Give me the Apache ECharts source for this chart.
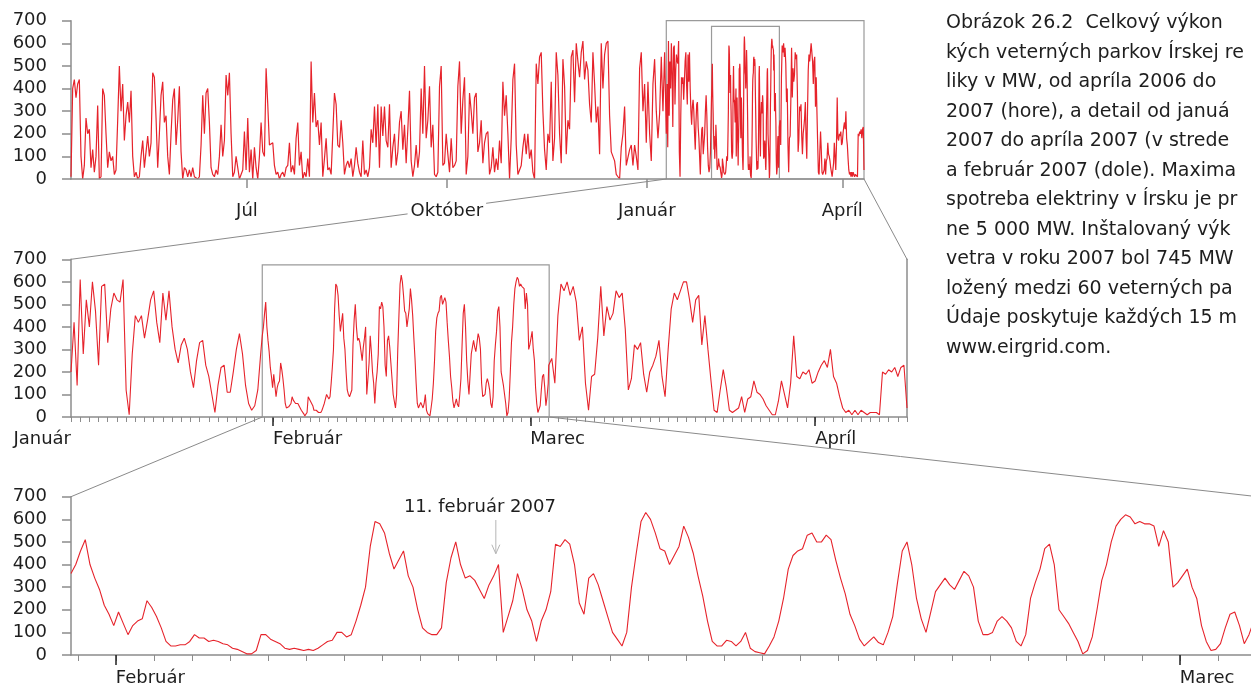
<!DOCTYPE html>
<html><head><meta charset="utf-8">
<script src="https://cdn.jsdelivr.net/npm/echarts@6.0.0/dist/echarts.min.js"></script>
<style>html,body{margin:0;padding:0;background:#fff}#c{width:1251px;height:685px}</style>
</head><body><div id="c"></div>
<script>
// ---------- DATA (MW) ----------
// x = days relative to 1 Jan 2007
// Top panel, 11 Apr 2006 .. 10 Jan 2007, evenly sampled
const topPreStart = -265;
const topPreEnd = 9;
const topPre = [
10,400,440,360,420,440,100,0,60,270,
200,220,50,130,30,100,325,0,10,400,
370,200,50,120,80,100,20,40,260,500,
300,420,170,280,340,250,390,100,10,30,
0,10,100,170,50,120,190,100,160,470,
450,270,50,200,370,430,250,280,100,20,
200,350,400,150,260,410,120,0,50,40,
10,40,10,50,10,10,0,10,150,370,
200,380,400,250,50,20,10,40,20,100,
240,100,170,460,370,470,200,10,30,100,
50,0,0,40,210,40,270,30,130,0,
140,50,0,100,250,120,100,490,330,150,
150,160,60,20,30,0,20,30,10,50,
60,160,30,60,20,180,250,60,120,0,
30,10,90,10,520,250,380,230,260,150,
250,10,90,180,40,50,20,200,380,330,
150,140,260,160,20,60,80,50,90,10,
60,140,70,30,10,170,20,40,10,50,
220,160,320,140,330,50,320,190,320,170,
140,330,50,140,200,60,120,250,300,130,
240,70,220,390,80,10,60,150,50,120,
400,200,500,180,260,410,140,240,20,10,
30,410,500,60,70,200,110,30,180,50,
60,80,410,520,200,350,450,20,100,380,
300,200,360,380,120,160,260,70,160,200,
210,20,50,140,30,90,40,170,70,430,
280,370,200,0,180,440,510,150,20,20,
60,140,200,110,200,90,130,30,0,510,
420,540,560,300,130,40,200,160,430,80,
180,560,460,200,70,530,410,110,260,220,
540,570,340,600,520,450,560,610,440,520,
480,330,250,560,420,250,320,110,600,400,
550,600,610,280,120,120,80,20,10,0,
140,200,320,60,60,130,150,60,150,100,
40,490,560,300,420,160,430,200,80,420,
530,300,180,290,540,300,560,350
];
// Middle panel part A: 10 Jan .. 30 Jan 2007, every 8 hours
const midAStart = 9, midAStep = 1/3;
const midA = [
200,420,140,610,280,520,400,600,470,230,
580,590,330,480,550,520,510,610,120,10,
280,450,420,450,350,430,520,560,420,330,
550,430,560,400,300,240,320,350,300,200,
130,250,330,340,230,180,100,20,140,220,
230,110,110,200,300,370,280,140,60,30,
50,120,290
];
// Bottom panel (February detail): every 3 hours
const febStart = 29.82, febStep = 1/8;
const feb = [
360,400,460,510,400,340,290,220,180,130,
190,140,90,130,150,160,240,210,170,120,
60,40,40,45,45,60,90,75,75,60,
65,60,50,45,30,25,15,5,5,20,
90,90,70,60,50,30,25,30,25,20,
25,20,30,45,60,65,100,100,80,90,
150,220,300,480,590,580,540,450,380,420,
460,350,300,200,120,100,90,90,120,320,
430,500,400,340,350,330,290,250,310,350,
400,100,170,240,360,290,200,150,60,150,
200,280,490,480,510,490,400,230,180,340,
360,310,240,170,100,70,40,100,300,450,
590,630,600,540,470,460,400,440,480,570,
520,450,350,260,150,60,40,40,65,60,
40,60,100,30,15,10,5,40,80,150,
250,380,440,460,470,530,540,500,500,530,
510,420,340,270,180,130,70,40,60,80,
55,45,100,170,320,460,500,400,250,160,
100,190,280,310,340,310,290,330,370,350,
300,150,90,90,100,150,170,150,120,60,
40,90,250,320,380,470,490,400,200,170,
140,100,60,5,20,80,200,330,400,500,
570,600,620,610,580,590,580,580,570,480,
550,500,300,320,350,380,300,250,130,60,
20,25,50,120,180,190,130,50,90,150,220
];
// Middle panel part B: 3 Mar .. 11 Apr 2007, every 8 hours
const midBStart = 61, midBStep = 1/3;
const midB = [
230,260,150,450,590,560,600,540,580,510,
340,400,150,30,180,190,350,580,360,490,
430,460,560,530,550,390,120,170,320,300,
330,190,110,200,230,270,340,180,90,300,
480,550,520,560,600,600,520,420,520,540,
320,450,300,160,30,20,120,210,130,30,
20,30,40,90,20,80,90,160,110,100,
80,50,30,10,10,70,160,100,40,150,
360,180,170,200,190,210,150,160,200,230,
250,220,300,180,150,90,40,20,30,10,
30,10,30,20,10,20,20,20,10,200,
190,210,200,220,180,220,230,40
];
// axis extents and ticks (days relative to 1 Jan 2007)
const topRange = [-265, 100];
const midRange = [9, 100];
const febRange = [29.82, 61.05];
const yTicks = [0, 700, 100];
const topTickValues = [-184, -92, 0, 90];
const topTickLabels = ['Júl', 'Október', 'Január', 'Apríl'];
const midTickValues = [31, 59, 90];
const midTickLabels = ['Február', 'Marec', 'Apríl'];
const midStartLabel = 'Január';
const febTickValues = [31, 59];
const febTickLabels = ['Február', 'Marec'];
const innerBoxTop = 675;
const annotationText = '11. február 2007';
const annotationDay = 41;
const captionLines = [
'Obrázok 26.2  Celkový výkon',
'kých veterných parkov Írskej re',
'liky v MW, od apríla 2006 do',
'2007 (hore), a detail od januá',
'2007 do apríla 2007 (v strede',
'a február 2007 (dole). Maxima',
'spotreba elektriny v Írsku je pr',
'ne 5 000 MW. Inštalovaný výk',
'vetra v roku 2007 bol 745 MW',
'ložený medzi 60 veterných pa',
'Údaje poskytuje každých 15 m',
'www.eirgrid.com.'
];

// ---------- BUILD ----------
function seq(vals, start, step) { return vals.map((v, i) => [start + i * step, v]); }
const topPreStep = (topPreEnd - topPreStart) / (topPre.length - 1);
const febPts = seq(feb, febStart, febStep);
const midPts = seq(midA, midAStart, midAStep)
  .concat(febPts.filter(p => p[0] < midBStart))
  .concat(seq(midB, midBStart, midBStep));
const topPts = seq(topPre, topPreStart, topPreStep).filter(p => p[0] < midAStart).concat(midPts);

function intDays(r) { const a = []; for (let d = Math.ceil(r[0]); d <= Math.floor(r[1]); d++) a.push(d); return a; }
function nameOf(vals, labels) { return v => { const i = vals.findIndex(t => Math.abs(t - v) < 1e-6); return i >= 0 ? labels[i] : ''; }; }

const FONT = 'DejaVu Sans';
const FS = 18;
const RED = '#e6232b';
const AX = '#8c8c8c';
const TXT = '#1e1e1e';
const BOX = '#9a9a9a';

function yAxisCfg(g) {
  return { type: 'value', gridIndex: g, position: 'left', min: yTicks[0], max: yTicks[1], interval: yTicks[2],
    axisLine: { show: true, onZero: false, lineStyle: { color: AX, width: 1.5 } },
    axisTick: { show: true, length: 9, lineStyle: { color: AX, width: 1.5 } },
    axisLabel: { margin: 24, color: TXT, fontSize: FS, fontFamily: FONT },
    splitLine: { show: false } };
}
const lbl = (extra) => Object.assign({ color: TXT, fontSize: FS, fontFamily: FONT }, extra);
const noLine = { show: false, onZero: false };
const xLine = { show: true, onZero: false, lineStyle: { color: AX, width: 1.5 } };

const option = {
  animation: false,
  backgroundColor: '#fff',
  grid: [
    { left: 71, top: 20.7, width: 793, height: 158.3, containLabel: false, outerBoundsMode: 'none' },
    { left: 71, top: 259.3, width: 836, height: 157.7, containLabel: false, outerBoundsMode: 'none' },
    { left: 71, top: 496.7, width: (febRange[1] - febRange[0]) * 38, height: 158.3, containLabel: false, outerBoundsMode: 'none' }
  ],
  xAxis: [
    { type: 'value', gridIndex: 0, position: 'bottom', min: topRange[0], max: topRange[1], z: 10,
      axisLine: xLine,
      axisTick: { customValues: topTickValues, length: 9, lineStyle: { color: AX, width: 1.5 } },
      axisLabel: lbl({ customValues: topTickValues, formatter: nameOf(topTickValues, topTickLabels), margin: 23, backgroundColor: '#fff', padding: [0, 3] }),
      splitLine: { show: false } },
    { type: 'value', gridIndex: 1, position: 'bottom', min: midRange[0], max: midRange[1],
      axisLine: xLine,
      axisTick: { customValues: intDays(midRange), length: 5, lineStyle: { color: AX, width: 1 } },
      axisLabel: { show: false }, splitLine: { show: false } },
    { type: 'value', gridIndex: 1, position: 'bottom', min: midRange[0], max: midRange[1],
      axisLine: noLine,
      axisTick: { customValues: midTickValues, length: 9, lineStyle: { color: '#222', width: 1.5 } },
      axisLabel: lbl({ customValues: midTickValues, formatter: nameOf(midTickValues, midTickLabels), align: 'left', margin: 13 }),
      splitLine: { show: false } },
    { type: 'value', gridIndex: 1, position: 'bottom', min: midRange[0], max: midRange[1],
      axisLine: noLine, axisTick: { show: false },
      axisLabel: lbl({ customValues: [midRange[0]], formatter: () => midStartLabel, align: 'right', margin: 13, showMinLabel: true }),
      splitLine: { show: false } },
    { type: 'value', gridIndex: 2, position: 'bottom', min: febRange[0], max: febRange[1],
      axisLine: xLine,
      axisTick: { customValues: intDays(febRange), length: 6, lineStyle: { color: AX, width: 1 } },
      axisLabel: { show: false }, splitLine: { show: false } },
    { type: 'value', gridIndex: 2, position: 'bottom', min: febRange[0], max: febRange[1],
      axisLine: noLine,
      axisTick: { customValues: febTickValues, length: 10, lineStyle: { color: '#222', width: 1.5 } },
      axisLabel: lbl({ customValues: febTickValues, formatter: nameOf(febTickValues, febTickLabels), align: 'left', margin: 14 }),
      splitLine: { show: false } }
  ],
  yAxis: [
    yAxisCfg(0), yAxisCfg(1), yAxisCfg(2),
    { type: 'value', gridIndex: 1, position: 'right', min: yTicks[0], max: yTicks[1],
      axisLine: { show: true, onZero: false, lineStyle: { color: AX, width: 1.5 } }, axisTick: { show: false },
      axisLabel: { show: false }, splitLine: { show: false } }
  ],
  series: [
    { type: 'line', xAxisIndex: 0, yAxisIndex: 0, data: topPts, showSymbol: false, sampling: null,
      lineStyle: { color: RED, width: 1.2 }, itemStyle: { color: RED },
      markArea: { silent: true, itemStyle: { color: 'rgba(0,0,0,0)', borderColor: BOX, borderWidth: 1.2 },
        data: [
          [{ xAxis: midRange[0], yAxis: 0 }, { xAxis: midRange[1], yAxis: 700 }],
          [{ xAxis: febRange[0], yAxis: 0 }, { xAxis: febRange[1], yAxis: innerBoxTop }]
        ] } },
    { type: 'line', xAxisIndex: 1, yAxisIndex: 1, data: midPts, showSymbol: false,
      lineStyle: { color: RED, width: 1.1 }, itemStyle: { color: RED },
      markArea: { silent: true, itemStyle: { color: 'rgba(0,0,0,0)', borderColor: BOX, borderWidth: 1.2 },
        data: [[{ xAxis: febRange[0], yAxis: 0 }, { xAxis: febRange[1], yAxis: innerBoxTop }]] } },
    { type: 'line', xAxisIndex: 4, yAxisIndex: 2, data: febPts, showSymbol: false,
      lineStyle: { color: RED, width: 1.1 }, itemStyle: { color: RED } }
  ]
};

const chart = echarts.init(document.getElementById('c'), null, { renderer: 'canvas' });
chart.setOption(option);

const px = (s, pt) => chart.convertToPixel({ seriesIndex: s }, pt);
function seg(a, b, color) {
  return { type: 'line', z: 1, silent: true, shape: { x1: a[0], y1: a[1], x2: b[0], y2: b[1] },
    style: { stroke: color || '#8a8a8a', lineWidth: 1 } };
}
const g = [];
g.push(seg(px(0, [midRange[0], 0]), px(1, [midRange[0], 700])));
g.push(seg(px(0, [midRange[1], 0]), px(1, [midRange[1], 700])));
g.push(seg(px(1, [febRange[0], 0]), px(2, [febRange[0], 700])));
g.push(seg(px(1, [febRange[1], 0]), px(2, [febRange[1], 700])));
// annotation arrow
const aTop = px(2, [annotationDay, 597]), aBot = px(2, [annotationDay, 448]);
g.push(seg(aTop, aBot, '#b5b5b5'));
g.push({ type: 'polyline', z: 1, silent: true,
  shape: { points: [[aBot[0] - 4, aBot[1] - 9], aBot, [aBot[0] + 4, aBot[1] - 9]] },
  style: { stroke: '#b5b5b5', lineWidth: 1, fill: null } });
const aTxt = px(2, [40.58, 655]);
g.push({ type: 'text', z: 5, silent: true, x: aTxt[0], y: aTxt[1],
  style: { text: annotationText, fill: TXT, fontSize: FS, fontFamily: FONT, align: 'center', verticalAlign: 'middle' } });
// caption
g.push({ type: 'text', z: 5, silent: true, x: 946, y: 8.5,
  style: { text: captionLines.join('\n'), fill: TXT, fontSize: 19, fontFamily: FONT, lineHeight: 29.5, align: 'left', verticalAlign: 'top' } });
chart.setOption({ graphic: g });
</script></body></html>
